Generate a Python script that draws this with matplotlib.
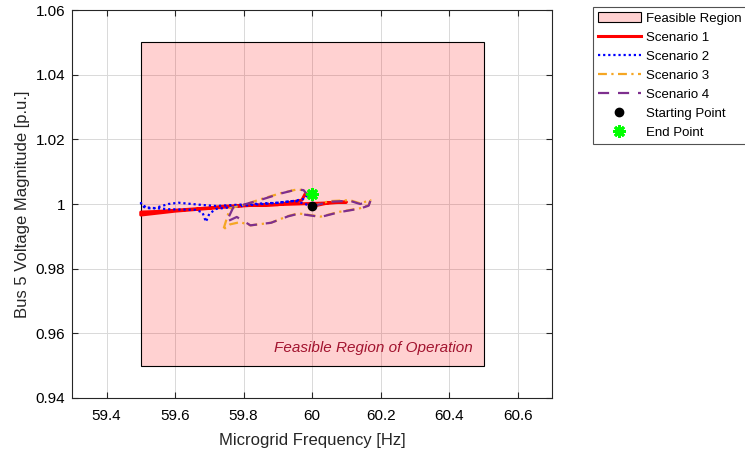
import numpy as np
import matplotlib.pyplot as plt
from matplotlib.patches import Rectangle

plt.rcParams['font.family'] = ['Liberation Sans', 'DejaVu Sans']

# Feasible region limits
f_min, f_max = 59.5, 60.5
v_min, v_max = 0.95, 1.05

# Trajectories (frequency [Hz], voltage [p.u.])
s1_f = [60.0, 60.05, 60.10, 60.04, 59.98, 59.80, 59.60, 59.50, 59.50, 59.55, 59.70, 59.74,
        59.90, 59.97, 59.98, 59.99, 60.0]
s1_v = [0.9993, 1.0004, 1.0006, 1.0003, 1.0001, 0.9995, 0.9978, 0.9966, 0.9975, 0.9977,
        0.9988, 0.9993, 0.9998, 1.0012, 1.0032, 1.0030, 1.0028]

s2_f = [60.0, 59.95, 59.90, 59.82, 59.72, 59.68, 59.61, 59.58, 59.54, 59.52, 59.505, 59.50,
        59.51, 59.58, 59.66, 59.68, 59.69, 59.70, 59.72, 59.82, 59.90, 59.95, 59.98, 59.985, 60.0]
s2_v = [0.9993, 1.0010, 1.0004, 1.0000, 0.9994, 0.9997, 1.0004, 1.0000, 0.9987, 0.9987,
        0.9997, 1.0003, 0.9990, 0.9984, 0.9982, 0.9974, 0.9945, 0.9970, 0.9985, 0.9997,
        1.0004, 1.0010, 1.0017, 1.0027, 1.0025]

s3_f = [60.0, 60.05, 60.11, 60.14, 60.17, 60.165, 60.14, 60.08, 60.025, 59.96, 59.93,
        59.88, 59.82, 59.79, 59.76, 59.745, 59.74, 59.76, 59.80, 59.85, 59.91, 59.955,
        59.975, 59.99, 60.0]
s3_v = [0.9993, 1.0009, 1.0012, 1.0002, 1.0012, 0.9997, 0.9987, 0.9976, 0.9961, 0.9971,
        0.9963, 0.9942, 0.9934, 0.9944, 0.9937, 0.9925, 0.9918, 0.9987, 0.9997, 1.0015,
        1.0034, 1.0045, 1.0043, 1.0023, 1.0030]

s4_f = [60.0, 60.05, 60.11, 60.14, 60.17, 60.165, 60.14, 60.08, 60.025, 59.96, 59.93,
        59.88, 59.82, 59.78, 59.75, 59.77, 59.80, 59.85, 59.91, 59.955, 59.975, 59.99, 60.0]
s4_v = [0.9993, 1.0007, 1.0010, 1.0000, 1.0010, 0.9995, 0.9986, 0.9975, 0.9960, 0.9970,
        0.9962, 0.9942, 0.9934, 0.9960, 0.9945, 0.9990, 0.9998, 1.0013, 1.0033, 1.0045,
        1.0043, 1.0023, 1.0028]

start_pt = (60.0, 0.9993)
end_pt = (60.0, 1.0030)

xticks = [59.4, 59.6, 59.8, 60.0, 60.2, 60.4, 60.6]
xtick_labels = ['59.4', '59.6', '59.8', '60', '60.2', '60.4', '60.6']
yticks = [0.94, 0.96, 0.98, 1.0, 1.02, 1.04, 1.06]
ytick_labels = ['0.94', '0.96', '0.98', '1', '1.02', '1.04', '1.06']

fig = plt.figure(figsize=(7.45, 4.59), dpi=100)
ax = fig.add_axes([0.097, 0.133, 0.644, 0.845])

region = Rectangle((f_min, v_min), f_max - f_min, v_max - v_min,
                   facecolor=(1, 0, 0, 0.18), edgecolor='black', linewidth=0.8,
                   label='Feasible Region', zorder=1)
ax.add_patch(region)

ax.plot(s1_f, s1_v, color='red', lw=2.2, label='Scenario 1', zorder=3)
ax.plot(s2_f, s2_v, color='blue', lw=1.6, ls=(0, (1, 1.3)), label='Scenario 2', zorder=3)
ax.plot(s3_f, s3_v, color='#F5A623', lw=1.6, ls=(0, (4, 2, 1, 2)), label='Scenario 3', zorder=3)
ax.plot(s4_f, s4_v, color='#7E2F8E', lw=1.6, ls=(0, (5, 4)), label='Scenario 4', zorder=3)
ax.plot(*start_pt, 'o', color='black', ms=6, ls='none', label='Starting Point', zorder=4)
ax.plot(*end_pt, marker=(8, 2, 0), color='#00FF00', mec='#00FF00', mew=2.0, ms=9,
        ls='none', label='End Point', zorder=4)

ax.text(60.47, 0.9555, 'Feasible Region of Operation', style='italic',
        color='#A2142F', fontsize=11, ha='right', va='center', zorder=5)

ax.set_xlim(59.3, 60.7)
ax.set_ylim(0.94, 1.06)
ax.set_xticks(xticks)
ax.set_xticklabels(xtick_labels)
ax.set_yticks(yticks)
ax.set_yticklabels(ytick_labels)
ax.tick_params(direction='in', top=True, right=True, labelsize=11, length=4, color='#262626')
ax.tick_params(axis='x', pad=8)
ax.tick_params(axis='y', pad=5)
ax.grid(True, color='#d9d9d9', lw=0.7)
ax.set_axisbelow(True)
for sp in ax.spines.values():
    sp.set_color('#262626')
    sp.set_linewidth(0.8)

ax.set_xlabel('Microgrid Frequency [Hz]', fontsize=12, color='#262626', labelpad=7)
ax.set_ylabel('Bus 5 Voltage Magnitude [p.u.]', fontsize=12, color='#262626')

leg = fig.legend(loc='upper left', bbox_to_anchor=(593 / 745, 1 - 7 / 459),
                 fontsize=9.5, handlelength=3.2, fancybox=False, edgecolor='#262626',
                 borderpad=0.4, labelspacing=0.52, handletextpad=0.4, borderaxespad=0)
leg.get_frame().set_linewidth(0.8)

fig.savefig('out.png', dpi=100)
